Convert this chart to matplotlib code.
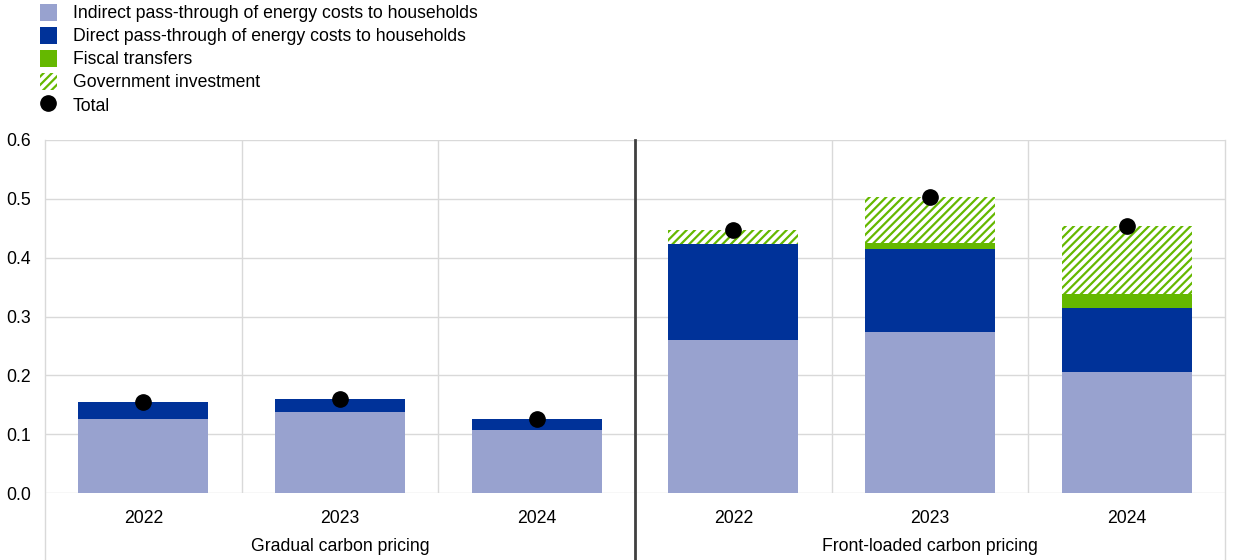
import matplotlib.pyplot as plt
from matplotlib.patches import Patch
from matplotlib.lines import Line2D
import matplotlib.transforms as mtransforms
import numpy as np

plt.rcParams['font.family'] = ['Liberation Sans', 'DejaVu Sans']
plt.rcParams['hatch.linewidth'] = 1.6

years = ["2022", "2023", "2024", "2022", "2023", "2024"]
groups = ["Gradual carbon pricing", "Front-loaded carbon pricing"]

indirect = [0.125, 0.137, 0.107, 0.260, 0.274, 0.206]
direct = [0.029, 0.023, 0.018, 0.164, 0.140, 0.108]
fiscal = [0.0, 0.0, 0.0, 0.0, 0.011, 0.024]
gov_invest = [0.0, 0.0, 0.0, 0.023, 0.078, 0.115]
total = [0.154, 0.160, 0.125, 0.447, 0.503, 0.453]

c_indirect = "#98a2cf"
c_direct = "#003299"
c_green = "#65b800"
fs = 12.7

fig = plt.figure(figsize=(12.4, 5.6), dpi=100)
ax = fig.add_axes([45 / 1240, 67 / 560, 1180 / 1240, 353 / 560])

x = np.arange(len(years))
w = 0.66
b1 = np.array(indirect)
b2 = b1 + np.array(direct)
b3 = b2 + np.array(fiscal)

ax.bar(x, indirect, w, color=c_indirect, zorder=2)
ax.bar(x, direct, w, bottom=b1, color=c_direct, zorder=2)
ax.bar(x, fiscal, w, bottom=b2, color=c_green, zorder=2)
ax.bar(x, gov_invest, w, bottom=b3, facecolor="white", edgecolor=c_green,
       hatch="////", linewidth=0, zorder=2)
ax.plot(x, total, "o", color="black", markersize=11, zorder=3)

ax.set_xlim(-0.5, 5.5)
ax.set_ylim(0, 0.6)
ax.set_yticks(np.arange(0, 0.61, 0.1))
ax.set_yticklabels([f"{v:.1f}" for v in np.arange(0, 0.61, 0.1)], fontsize=fs)
ax.set_xticks(x)
ax.set_xticklabels(years, fontsize=fs)
ax.tick_params(length=0, pad=12)
ax.tick_params(axis="y", pad=10)
ax.yaxis.grid(True, color="#d9d9d9", linewidth=1, zorder=0)
ax.set_axisbelow(True)
for s in ax.spines.values():
    s.set_visible(False)

# separators between years and groups
for xv in [0.5, 1.5, 3.5, 4.5]:
    ax.axvline(xv, color="#d9d9d9", linewidth=1, zorder=1)
for xv in [-0.5, 5.5]:
    ax.axvline(xv, ymin=-0.19, ymax=1, color="#d9d9d9", linewidth=1, clip_on=False, zorder=1)
ax.axvline(2.5, ymin=-0.19, ymax=1, color="#404040", linewidth=2, clip_on=False, zorder=2.5)

trans = mtransforms.blended_transform_factory(ax.transData, ax.transAxes)
ax.text(1, -0.152, groups[0], transform=trans, ha="center", va="center", fontsize=fs)
ax.text(4, -0.152, groups[1], transform=trans, ha="center", va="center", fontsize=fs)

handles = [
    Patch(facecolor=c_indirect, label="Indirect pass-through of energy costs to households"),
    Patch(facecolor=c_direct, label="Direct pass-through of energy costs to households"),
    Patch(facecolor=c_green, label="Fiscal transfers"),
    Patch(facecolor="white", edgecolor=c_green, hatch="////", linewidth=0, label="Government investment"),
    Line2D([], [], marker="o", color="black", linestyle="none", markersize=11, label="Total"),
]
fig.legend(handles=handles, loc="upper left", bbox_to_anchor=(29 / 1240, 1.012),
           frameon=False, fontsize=fs, handlelength=1.0, handleheight=1.1,
           handletextpad=0.9, labelspacing=0.26, borderaxespad=0.2)

fig.savefig("out.png", dpi=100)
